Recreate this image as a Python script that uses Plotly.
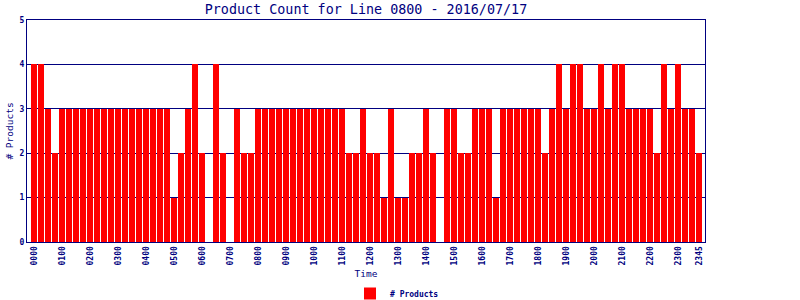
import plotly.graph_objects as go

times = [f"{h:02d}{m:02d}" for h in range(24) for m in (0, 15, 30, 45)]
counts = [
    4, 4, 3, 2, 3, 3, 3, 3, 3, 3, 3, 3, 3, 3, 3, 3,
    3, 3, 3, 3, 1, 2, 3, 4, 2, 0, 4, 2, 0, 3, 2, 2,
    3, 3, 3, 3, 3, 3, 3, 3, 3, 3, 3, 3, 3, 2, 2, 3,
    2, 2, 1, 3, 1, 1, 2, 2, 3, 2, 0, 3, 3, 2, 2, 3,
    3, 3, 1, 3, 3, 3, 3, 3, 3, 2, 3, 4, 3, 4, 4, 3,
    3, 4, 3, 4, 4, 3, 3, 3, 3, 2, 4, 3, 4, 3, 3, 2,
]
tick_labels = [f"{h:02d}00" for h in range(24)] + ["2345"]
y_ticks = [0, 1, 2, 3, 4, 5]

NAVY = "#000080"
MONO = "DejaVu Sans Mono"

idx = list(range(len(times)))
tick_pos = [times.index(t) for t in tick_labels]

fig = go.Figure()
fig.add_trace(go.Bar(
    x=idx, y=counts, name="# Products",
    marker=dict(color="#FF0000", line=dict(width=0)),
    width=6 / 7,
))

fig.update_layout(
    width=800, height=300,
    margin=dict(l=27, r=95, t=20, b=58, autoexpand=False),
    paper_bgcolor="white", plot_bgcolor="white",
    title=dict(text="Product Count for Line 0800 - 2016/07/17",
               x=(27 + 705) / 2 / 800, xanchor="center", y=1 - 9 / 300, yanchor="middle",
               font=dict(family=MONO, size=13.4, color=NAVY)),
    showlegend=True,
    legend=dict(orientation="h", xref="container", x=0.5 - 3 / 800, xanchor="center",
                yref="container", y=1 - 279 / 300, yanchor="top",
                font=dict(family=MONO, size=8, color=NAVY, weight="bold"),
                itemwidth=30, tracegroupgap=0, bgcolor="rgba(0,0,0,0)"),
    bargap=0,
)
fig.update_xaxes(
    range=[-1.0, 95.857], tickmode="array", tickvals=tick_pos, ticktext=tick_labels,
    tickangle=-90, tickfont=dict(family=MONO, size=8, color=NAVY, weight="bold"),
    ticks="", showgrid=False, zeroline=False,
    showline=True, linecolor=NAVY, linewidth=1, mirror=True,
    title=dict(text="Time", font=dict(family=MONO, size=9.5, color=NAVY), standoff=8),
    automargin=False,
)
fig.update_yaxes(
    range=[0, 5], tickmode="array", tickvals=y_ticks,
    tickfont=dict(family=MONO, size=8, color=NAVY, weight="bold"),
    ticks="", showgrid=True, gridcolor=NAVY, gridwidth=1, zeroline=False,
    showline=True, linecolor=NAVY, linewidth=1, mirror=True,
    title=dict(text="# Products", font=dict(family=MONO, size=9.5, color=NAVY), standoff=4),
    automargin=False,
)

fig.write_html("out.html")
